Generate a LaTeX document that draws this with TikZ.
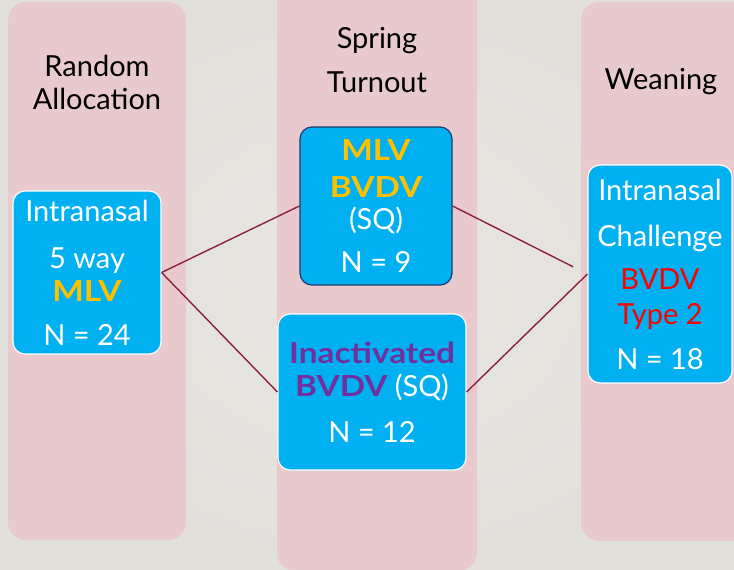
\documentclass[tikz,border=0pt]{standalone}
\usepackage{fontspec}
\usepackage{graphicx}
\setmainfont{Lato}
\definecolor{bgcol}{HTML}{E2E0DB}
\definecolor{bglight}{HTML}{E8E6E2}
\definecolor{colpink}{HTML}{E8C9CD}
\definecolor{boxblue}{HTML}{00B0F0}
\definecolor{boxnavy}{HTML}{1F3A6E}
\definecolor{mlvgold}{HTML}{FFC000}
\definecolor{inactpurple}{HTML}{7030A0}
\definecolor{challred}{HTML}{FF0000}
\definecolor{linkred}{HTML}{8E1F3F}
\newcommand{\heavy}[2]{\scalebox{1.15}[1]{\bfseries\color{#1}#2}}

\begin{document}
\begin{tikzpicture}[x=1pt, y=-1pt,
  every node/.style={font=\fontsize{29}{33}\selectfont, align=center},
  group/.style={draw=white, line width=1.2pt, fill=boxblue, rounded corners=12pt, text=white, inner sep=0pt},
  link/.style={linkred, line width=1.4pt}]
  \useasboundingbox (0,0) rectangle (734,570);
  \shade[inner color=bglight, outer color=bgcol] (0,0) rectangle (734,570);
  % stage columns
  \fill[colpink, rounded corners=18pt] (8,2) rectangle (186,540);
  \fill[colpink, rounded corners=18pt] (277,-20) rectangle (477,571);
  \fill[colpink, rounded corners=18pt] (581,2) rectangle (760,541);
  \node (hrand) at (97,82) {Random\\Allocation};
  \node (hspring) at (377,60) {Spring\\[11pt]Turnout};
  \node (hwean) at (661,82) {Weaning};
  % groups
  \node[group, minimum width=148, minimum height=163] (start) at (87,272.5)
    {Intranasal\\[14pt]5 way\\\heavy{mlvgold}{MLV}\\[11pt]N = 24};
  \node[group, draw=boxnavy, minimum width=152, minimum height=158] (mlv) at (376,206)
    {\heavy{mlvgold}{MLV}\\[4pt]\heavy{mlvgold}{BVDV}\\[-1pt](SQ)\\[10pt]N = 9};
  \node[group, minimum width=188, minimum height=156] (inact) at (372,392)
    {\heavy{inactpurple}{Inactivated}\\\heavy{inactpurple}{BVDV} (SQ)\\[13pt]N = 12};
  \node[group, minimum width=144, minimum height=218] (challenge) at (660,274)
    {Intranasal\\[13pt]Challenge\\[10pt]{\color{challred}BVDV}\\[2pt]{\color{challred}Type 2}\\[12pt]N = 18};
  % connectors
  \draw[link] (start.east) -- (mlv.west);
  \draw[link] (start.east) -- (inact.west);
  \draw[link, shorten >=16pt] (mlv.east) -- (challenge.west);
  \draw[link] (inact.east) -- (challenge.west);
\end{tikzpicture}
\end{document}
